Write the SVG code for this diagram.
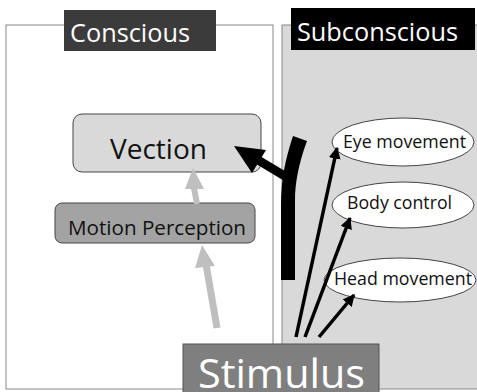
<svg xmlns="http://www.w3.org/2000/svg" width="477" height="392" viewBox="0 0 477 392">
<defs>
<style>
text{font-family:"Open Sans","Noto Sans","Liberation Sans",sans-serif}
.lbl{fill:#fff}
.node{fill:#111}
.ell{fill:#fff;stroke:#444;stroke-width:1}
.thin{stroke:#000;stroke-width:3.5;fill:none}
</style>
<marker id="ah" viewBox="0 0 10 10" refX="9" refY="5" markerWidth="3.4" markerHeight="3.4" orient="auto" markerUnits="strokeWidth">
<path d="M0,0 L10,5 L0,10 Z" fill="#000"/>
</marker>
</defs>
<rect width="477" height="392" fill="#fff"/>
<g id="conscious">
<rect x="6" y="25" width="267" height="364" fill="#fff" stroke="#888" stroke-width="1"/>
<rect x="64" y="10" width="152" height="41" fill="#3b3b3b"/>
<text class="lbl" x="70" y="42" font-size="25" textLength="120" lengthAdjust="spacingAndGlyphs">Conscious</text>
</g>
<g id="subconscious">
<rect x="282" y="25" width="200" height="364" fill="#d9d9d9" stroke="#888" stroke-width="1"/>
<rect x="291" y="8" width="184" height="42" fill="#000"/>
<text class="lbl" x="297" y="41" font-size="25" textLength="161" lengthAdjust="spacingAndGlyphs">Subconscious</text>
</g>
<g id="vection">
<rect x="73" y="114" width="188" height="58" rx="9" fill="#d9d9d9" stroke="#444" stroke-width="1"/>
<text class="node" x="110" y="159" font-size="28" textLength="97" lengthAdjust="spacingAndGlyphs">Vection</text>
</g>
<g id="motion">
<rect x="55" y="203" width="200" height="40" rx="7" fill="#a3a3a3" stroke="#444" stroke-width="1"/>
<text class="node" x="68" y="235" font-size="19.5" textLength="178" lengthAdjust="spacingAndGlyphs">Motion Perception</text>
</g>
<g id="eye">
<ellipse class="ell" cx="403" cy="142" rx="71" ry="24"/>
<text class="node" x="343" y="148" font-size="18" textLength="123" lengthAdjust="spacingAndGlyphs">Eye movement</text>
</g>
<g id="body">
<ellipse class="ell" cx="403" cy="205" rx="71" ry="23"/>
<text class="node" x="347" y="209" font-size="18" textLength="105" lengthAdjust="spacingAndGlyphs">Body control</text>
</g>
<g id="head">
<ellipse class="ell" cx="400" cy="280" rx="76" ry="22"/>
<text class="node" x="334" y="285" font-size="18" textLength="138" lengthAdjust="spacingAndGlyphs">Head movement</text>
</g>
<g id="connectors">
<path d="M197,204 L194,188" stroke="#bfbfbf" stroke-width="6" fill="none"/>
<path d="M193,168 L204,189 L185,189 Z" fill="#bfbfbf"/>
<path d="M217,328 L206,264" stroke="#bfbfbf" stroke-width="7" fill="none"/>
<path d="M202,245 L215,266 L195,268 Z" fill="#bfbfbf"/>
<path d="M288,178 L258,160" stroke="#000" stroke-width="9" fill="none"/>
<path d="M234,146 L266,150 L252,173 Z" fill="#000"/>
<path d="M293,136 L307,141 C298,165 295,185 295,200 L295,280 L281,280 L281,205 C281,180 285,160 293,136 Z" fill="#000"/>
<line class="thin" x1="296" y1="337" x2="337" y2="148" marker-end="url(#ah)"/>
<line class="thin" x1="305" y1="337" x2="350" y2="218" marker-end="url(#ah)"/>
<line class="thin" x1="319" y1="337" x2="354" y2="295" marker-end="url(#ah)"/>
</g>
<g id="stimulus">
<rect x="183" y="344" width="196" height="50" fill="#7f7f7f" stroke="#555" stroke-width="1"/>
<text class="lbl" x="198" y="388" font-size="40" textLength="167" lengthAdjust="spacingAndGlyphs">Stimulus</text>
</g>
</svg>
